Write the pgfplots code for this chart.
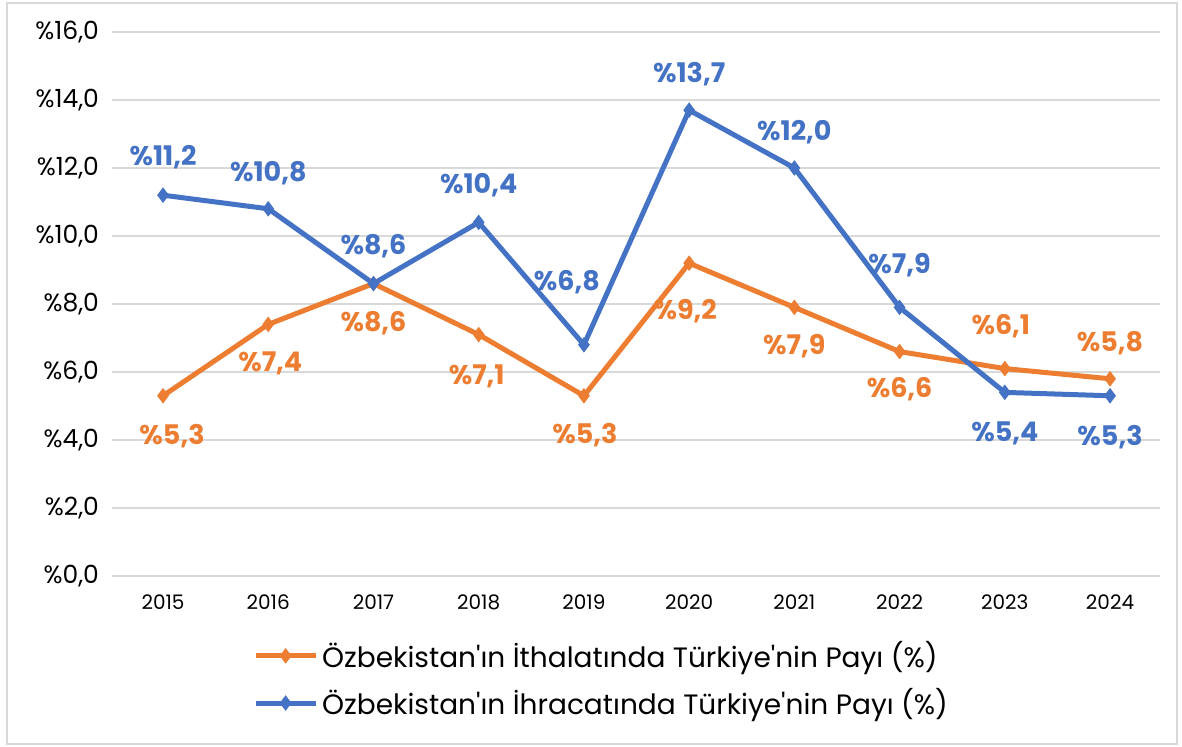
\documentclass[border=0pt]{standalone}
\usepackage{pgfplots}
\pgfplotsset{compat=1.18}
\usepackage{pgfplotstable}
\usepackage{fontspec}
\setmainfont{Poppins}
\newfontfamily\legfont{Poppins}
\definecolor{cOr}{HTML}{ED7D31}
\definecolor{cBl}{HTML}{4472C4}
\definecolor{cGr}{HTML}{D9D9D9}
\pgfplotstableread{
x v dx dy
0 5.3 4.5 -20
1 7.4 1 -19.5
2 8.6 0 -20
3 7.1 -1 -21
4 5.3 0.5 -19.5
5 9.2 -2 -24
6 7.9 0 -19.5
7 6.6 0 -19
8 6.1 -2 21
9 5.8 0 18
}\imp
\pgfplotstableread{
x v dx dy
0 11.2 0 19
1 10.8 0 18
2 8.6 0 18.5
3 10.4 0 18.5
4 6.8 -8.5 31.5
5 13.7 0 18
6 12.0 0 18
7 7.9 0 21
8 5.4 0 -20.5
9 5.3 0 -20.5
}\ihr
\begin{document}
\begin{tikzpicture}[x=0.5pt,y=0.5pt]
\useasboundingbox (0,0) rectangle (1182,747);
\draw[cGr,line width=1pt] (7,3) rectangle (1177,744);
\begin{axis}[
  at={(56pt,85.5pt)}, anchor=south west,
  scale only axis, width=524pt, height=272pt,
  xmin=-0.485, xmax=9.475, ymin=0, ymax=16,
  axis line style={draw=none},
  tick style={draw=none},
  ytick={0,2,...,16},
  ymajorgrids, grid style={cGr,line width=1pt},
  xtick={0,...,9},
  xticklabels={2015,2016,2017,2018,2019,2020,2021,2022,2023,2024},
  /pgf/number format/assume math mode=true,
  yticklabel={\%\pgfmathprintnumber[fixed,fixed zerofill,precision=1,use comma]{\tick}},
  yticklabel style={font=\fontsize{12.5}{14}\selectfont, xshift=-3pt},
  xticklabel style={font=\fontsize{10}{12}\selectfont, yshift=-6pt},
  legend style={at={(0.468,-0.112)}, anchor=north, draw=none, fill=none,
    font=\legfont\fontsize{14}{16}\selectfont, row sep=5pt, inner sep=0pt},
  legend cell align=left,
  legend image code/.code={\draw[mark repeat=2,mark phase=2] plot coordinates {(0pt,0pt)(15pt,0pt)(30pt,0pt)};},
  nodes near coords={\%\pgfmathprintnumber[fixed,fixed zerofill,precision=1,use comma]{\pgfplotspointmeta}},
  every node near coord/.append style={font=\fontsize{13.5}{15}\selectfont\bfseries, anchor=center, xshift=\dx pt, yshift=\dy pt},
  visualization depends on={\thisrow{dx} \as \dx},
  visualization depends on={\thisrow{dy} \as \dy},
  point meta=explicit,
]
\addplot[cOr, line width=2.5pt, mark=diamond*, mark size=3.5pt, mark options={line width=0.5pt}, every node near coord/.append style={text=cOr}]
  table[x=x,y=v,meta=v] {\imp};
\addlegendentry{Özbekistan'ın İthalatında Türkiye'nin Payı (\%)}
\addplot[cBl, line width=2.5pt, mark=diamond*, mark size=3.5pt, mark options={line width=0.5pt}, every node near coord/.append style={text=cBl}]
  table[x=x,y=v,meta=v] {\ihr};
\addlegendentry{Özbekistan'ın İhracatında Türkiye'nin Payı (\%)}
\end{axis}
\end{tikzpicture}
\end{document}
